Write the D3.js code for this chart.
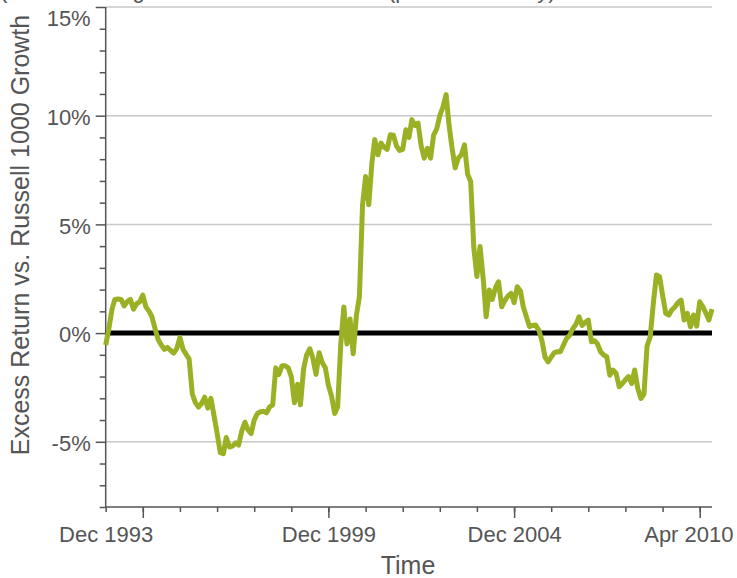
<html>
<head>
<meta charset="utf-8">
<script src="https://cdn.jsdelivr.net/npm/d3@7/dist/d3.min.js"></script>
<style>
  body { margin: 0; background: #fff; }
  text { font-family: "Liberation Sans", Arial, sans-serif; }
  .axis path, .axis line { stroke: #555; stroke-width: 1.5; }
  .axis text { fill: #555; font-size: 22px; }
  .grid line { stroke: #c8c8c8; stroke-width: 1.5; }
</style>
</head>
<body>
<svg width="737" height="578"></svg>
<script>
// monthly excess return (%) from Dec 1993 to Apr 2010
var startMonth = "1993-12";
var endMonth = "2010-04";
var excessReturn = [
  -0.55, 0.2, 1.1, 1.55, 1.57, 1.55, 1.25, 1.45, 1.55, 1.1, 1.35, 1.44,
  1.75, 1.2, 1.0, 0.75, 0.2, -0.3, -0.55, -0.75, -0.66, -0.8, -0.92, -0.7,
  -0.2, -0.75, -0.98, -1.2, -2.8, -3.2, -3.4, -3.24, -2.95, -3.45, -3.0, -3.8,
  -4.6, -5.5, -5.55, -4.8, -5.24, -5.2, -5.05, -5.15, -4.5, -4.1, -4.45, -4.62,
  -4.0, -3.7, -3.62, -3.6, -3.67, -3.4, -3.3, -1.6, -1.9, -1.5, -1.5, -1.6,
  -2.0, -3.2, -2.35, -3.3, -1.65, -1.0, -0.72, -1.15, -1.9, -0.9, -1.35, -1.6,
  -2.4, -2.9, -3.7, -3.4, -0.5, 1.2, -0.5, 0.65, -0.95, 0.8, 1.67, 5.9,
  7.2, 5.9, 7.82, 8.9, 8.2, 8.74, 8.55, 8.45, 9.12, 9.1, 8.6, 8.4,
  8.45, 9.35, 9.0, 9.82, 9.55, 9.66, 8.6, 8.05, 8.5, 8.05, 9.1, 9.4,
  10.0, 10.4, 10.97, 9.6, 8.5, 7.6, 8.05, 8.2, 8.66, 7.3, 6.97, 3.9,
  2.6, 3.98, 2.5, 0.75, 1.98, 1.55, 2.1, 2.36, 1.21, 1.5, 1.7, 1.83,
  1.4, 2.13, 1.95, 1.21, 0.75, 0.3, 0.35, 0.37, 0.14, -0.35, -1.1, -1.32,
  -1.1, -0.9, -0.86, -0.86, -0.55, -0.25, -0.1, 0.2, 0.4, 0.75, 0.35, 0.5,
  0.6, -0.4, -0.35, -0.5, -0.86, -1.01, -1.09, -1.94, -1.7, -1.86, -2.47, -2.32,
  -2.15, -2.0, -2.32, -1.7, -2.55, -3.01, -2.8, -0.6, -0.17, 1.37, 2.67, 2.59,
  1.75, 0.91, 0.83, 1.06, 1.2, 1.4, 1.52, 0.6, 0.91, 0.29, 0.83, 0.32,
  1.44, 1.21, 0.91, 0.6, 1.1
];
var yTicks = [-5, 0, 5, 10, 15];
var yTickLabels = ["-5%", "0%", "5%", "10%", "15%"];
var xLabelMonths = ["1993-12", "1999-12", "2004-12", "2010-04"];
var xLabelText = ["Dec 1993", "Dec 1999", "Dec 2004", "Apr 2010"];
var xMajorMonths = ["1994-12", "1999-12", "2004-12", "2009-12"];

var parseMonth = d3.timeParse("%Y-%m");
var t0 = parseMonth(startMonth);
var series = excessReturn.map(function(v, i) {
  return { date: d3.timeMonth.offset(t0, i), value: v };
});

var svg = d3.select("svg");
var plotLeft = 105.7, plotRight = 712, plotTop = 7, plotBottom = 507;

var x = d3.scaleTime()
    .domain([t0, parseMonth(endMonth)])
    .range([plotLeft, plotRight]);
var y = d3.scaleLinear()
    .domain([-8, 15])
    .range([plotBottom, plotTop]);

// title sits above the picture, only its descenders show
svg.append("text")
    .attr("x", 0)
    .attr("y", -2)
    .attr("fill", "#555")
    .style("font-size", "22px")
    .text("(3-Year Rolling Excess Return vs Index (pre-fee monthly)");

// grid
svg.append("g").attr("class", "grid")
  .selectAll("line")
  .data(yTicks.filter(function(d) { return d != 0; }))
  .enter().append("line")
    .attr("x1", plotLeft).attr("x2", plotRight)
    .attr("y1", function(d) { return y(d); })
    .attr("y2", function(d) { return y(d); });

// y axis: minor then major
var yMinor = d3.range(-8, 16).filter(function(d) { return d % 5 != 0; });
svg.append("g").attr("class", "axis")
    .attr("transform", "translate(" + plotLeft + ",0)")
    .call(d3.axisLeft(y).tickValues(yMinor).tickSize(6).tickFormat(""))
  .select(".domain").attr("d", "M0," + plotBottom + "V" + plotTop);

var yAx = svg.append("g").attr("class", "axis")
    .attr("transform", "translate(" + plotLeft + ",0)")
    .call(d3.axisLeft(y).tickValues(yTicks).tickSize(10).tickPadding(5)
      .tickFormat(function(d, i) { return yTickLabels[i]; }));
yAx.select(".domain").remove();
yAx.selectAll("text").attr("dy", function(d) { return d == 15 ? "0.82em" : "0.4em"; });

// x axis: yearly minor ticks, 5-year major ticks, labels
var xMinor = d3.range(0, 17).map(function(k) { return d3.timeMonth.offset(t0, 12 * k); });
svg.append("g").attr("class", "axis")
    .attr("transform", "translate(0," + plotBottom + ")")
    .call(d3.axisBottom(x).tickValues(xMinor).tickSize(5).tickFormat(""))
  .select(".domain").attr("d", "M" + plotLeft + ",0H" + plotRight);

var xMajor = svg.append("g").attr("class", "axis")
    .attr("transform", "translate(0," + plotBottom + ")")
    .call(d3.axisBottom(x).tickValues(xMajorMonths.map(parseMonth)).tickSize(11).tickFormat(""));
xMajor.select(".domain").remove();

var xLab = svg.append("g").attr("class", "axis")
    .attr("transform", "translate(0," + plotBottom + ")")
    .call(d3.axisBottom(x).tickValues(xLabelMonths.map(parseMonth)).tickSize(0).tickPadding(19)
      .tickFormat(function(d, i) { return xLabelText[i]; }));
xLab.select(".domain").remove();
xLab.selectAll("line").remove();
xLab.selectAll(".tick").filter(function(d, i) { return i == xLabelMonths.length - 1; })
    .select("text")
    .attr("text-anchor", "end")
    .attr("x", 733 - x(parseMonth(endMonth)));

// zero line
svg.append("line")
    .attr("x1", plotLeft).attr("x2", plotRight)
    .attr("y1", y(0)).attr("y2", y(0))
    .attr("stroke", "#000")
    .attr("stroke-width", 5);

// series
var line = d3.line()
    .x(function(d) { return x(d.date); })
    .y(function(d) { return y(d.value); });
svg.append("path")
    .datum(series)
    .attr("fill", "none")
    .attr("stroke", "#9bb024")
    .attr("stroke-width", 5)
    .attr("stroke-linejoin", "round")
    .attr("d", line);

// axis titles
svg.append("text")
    .attr("x", 408).attr("y", 574)
    .attr("text-anchor", "middle")
    .attr("fill", "#555")
    .style("font-size", "25px")
    .text("Time");

svg.append("text")
    .attr("transform", "translate(29,235) rotate(-90)")
    .attr("text-anchor", "middle")
    .attr("fill", "#555")
    .style("font-size", "25px")
    .text("Excess Return vs. Russell 1000 Growth");
</script>
</body>
</html>
